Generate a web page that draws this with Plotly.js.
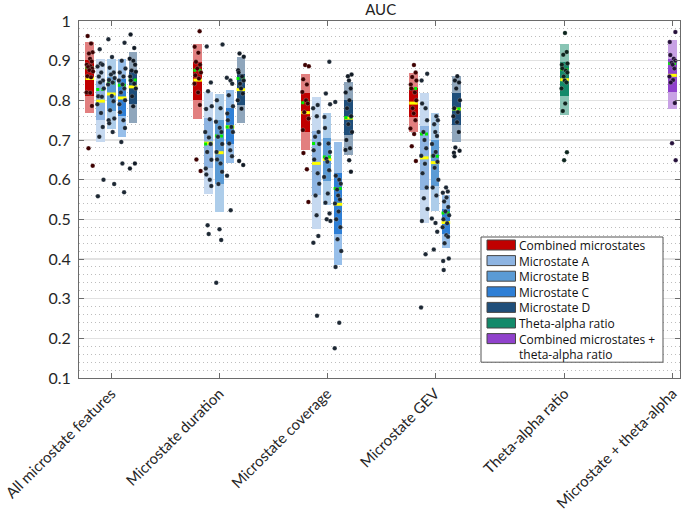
<!DOCTYPE html>
<html><head><meta charset="utf-8">
<script src="https://cdn.plot.ly/plotly-3.0.1.min.js"></script>
<style>html,body{margin:0;padding:0;background:#fff}#chart{width:685px;height:518px}</style>
</head><body><div id="chart"></div>
<script>
// Categories (x tick labels) and their axis positions
const groups = ['All microstate features','Microstate duration','Microstate coverage','Microstate GEV','Theta-alpha ratio','Microstate + theta-alpha'];
const groupPos = [1, 2, 3, 4, 5.2, 6.2];
const seriesNames = ['Combined microstates','Microstate A','Microstate B','Microstate C','Microstate D','Theta-alpha ratio','Combined microstates +<br>theta-alpha ratio'];

// Box statistics per group: [sdLow, ciLow, mean, median, ciHigh, sdHigh]
const statsCombined = [[0.767,0.811,0.855,0.882,0.901,0.946],[0.754,0.802,0.851,0.876,0.897,0.943],[0.674,0.72,0.769,0.794,0.818,0.866],[0.72,0.757,0.793,0.83,0.83,0.869]];
const statsA = [[0.694,0.75,0.798,0.827,0.85,0.903],[0.563,0.63,0.692,0.69,0.755,0.821],[0.475,0.561,0.641,0.691,0.723,0.809],[0.491,0.575,0.655,0.715,0.735,0.819]];
const statsB = [[0.727,0.773,0.816,0.844,0.86,0.904],[0.519,0.59,0.668,0.71,0.75,0.815],[0.536,0.596,0.651,0.657,0.706,0.767],[0.521,0.585,0.643,0.659,0.70,0.767]];
const statsC = [[0.708,0.76,0.806,0.838,0.853,0.905],[0.641,0.69,0.733,0.733,0.78,0.827],[0.385,0.464,0.538,0.578,0.616,0.695],[0.429,0.462,0.492,0.516,0.525,0.561]];
const statsD = [[0.743,0.79,0.834,0.851,0.877,0.923],[0.744,0.787,0.827,0.855,0.866,0.909],[0.663,0.712,0.755,0.757,0.80,0.847],[0.694,0.738,0.778,0.778,0.818,0.862]];
const statsTheta = [[0.764,0.81,0.852,0.878,0.897,0.941]];
const statsBoth = [[0.777,0.82,0.863,0.893,0.905,0.951]];

// Individual AUC values per group
const ptsCombined = [
 [0.962,0.943,0.921,0.918,0.905,0.898,0.89,0.886,0.884,0.88,0.876,0.873,0.861,0.858,0.82,0.819,0.786,0.679,0.635],
 [0.974,0.935,0.92,0.897,0.89,0.88,0.87,0.863,0.855,0.842,0.82,0.788,0.651,0.622],
 [0.889,0.886,0.853,0.84,0.821,0.80,0.792,0.77,0.754,0.725,0.667,0.626,0.544],
 [0.889,0.87,0.859,0.85,0.84,0.83,0.82,0.80,0.78,0.767,0.75,0.729,0.715,0.684,0.647]];
const ptsA = [
 [0.929,0.893,0.89,0.885,0.87,0.86,0.85,0.845,0.83,0.81,0.809,0.79,0.768,0.733,0.708,0.60,0.558],
 [0.936,0.845,0.823,0.785,0.778,0.752,0.72,0.706,0.69,0.67,0.65,0.628,0.613,0.60,0.584,0.485,0.463],
 [0.788,0.78,0.76,0.72,0.708,0.69,0.674,0.651,0.616,0.59,0.56,0.51,0.458,0.441,0.257],
 [0.867,0.85,0.792,0.78,0.75,0.72,0.70,0.679,0.66,0.64,0.616,0.58,0.553,0.526,0.496,0.412,0.278]];
const ptsB = [
 [0.954,0.909,0.882,0.87,0.865,0.856,0.851,0.845,0.84,0.811,0.798,0.775,0.754,0.75,0.742,0.72,0.589],
 [0.941,0.80,0.78,0.746,0.731,0.72,0.708,0.69,0.67,0.651,0.641,0.62,0.589,0.475,0.448,0.34],
 [0.897,0.817,0.79,0.758,0.73,0.691,0.67,0.653,0.645,0.624,0.607,0.565,0.542,0.515,0.50,0.496],
 [0.76,0.75,0.74,0.72,0.71,0.69,0.67,0.66,0.645,0.63,0.60,0.58,0.56,0.502,0.491,0.469,0.424]];
const ptsC = [
 [0.945,0.9,0.88,0.87,0.86,0.85,0.84,0.83,0.82,0.80,0.79,0.77,0.75,0.73,0.695,0.641,0.568],
 [0.857,0.85,0.842,0.813,0.785,0.767,0.75,0.733,0.72,0.691,0.674,0.659,0.61,0.523],
 [0.796,0.61,0.60,0.59,0.575,0.56,0.55,0.54,0.52,0.50,0.48,0.45,0.42,0.38,0.239,0.175],
 [0.58,0.57,0.567,0.555,0.545,0.531,0.52,0.51,0.50,0.49,0.48,0.46,0.456,0.44,0.401,0.395,0.372]];
const ptsD = [
 [0.966,0.932,0.905,0.90,0.89,0.875,0.872,0.86,0.85,0.842,0.83,0.81,0.785,0.641,0.628],
 [0.918,0.91,0.876,0.87,0.86,0.85,0.842,0.83,0.817,0.80,0.779,0.647,0.637],
 [0.865,0.861,0.85,0.83,0.82,0.80,0.78,0.76,0.74,0.72,0.70,0.679,0.675,0.649,0.62],
 [0.861,0.85,0.845,0.83,0.80,0.78,0.77,0.76,0.745,0.72,0.681,0.673,0.668,0.659]];
const ptsTheta = [[0.97,0.922,0.915,0.893,0.89,0.88,0.875,0.87,0.86,0.85,0.845,0.83,0.792,0.773,0.669,0.649]];
const ptsBoth = [[0.972,0.947,0.914,0.905,0.9,0.895,0.89,0.88,0.86,0.851,0.845,0.793,0.692,0.649]];

// Styles
const jitter = [-0.02,0.012,0.026,-0.008,0.002,0.018,-0.028,0.006,-0.016,0.022,-0.004,0.03,-0.022,0.012,-0.03,0.004,0.02,-0.012,0.027,-0.025];
const series = [
 {stats:statsCombined, pts:ptsCombined, g:[0,1,2,3], off:-0.2, inner:'#c00000', outer:'#e27f7f', dot:'#3d0000'},
 {stats:statsA, pts:ptsA, g:[0,1,2,3], off:-0.1, inner:'#8db4e2', outer:'#c6d9f0', dot:'#1c2733'},
 {stats:statsB, pts:ptsB, g:[0,1,2,3], off:0, inner:'#5b9bd5', outer:'#adcdea', dot:'#1c2733'},
 {stats:statsC, pts:ptsC, g:[0,1,2,3], off:0.1, inner:'#2e7fd6', outer:'#97bfea', dot:'#1c2733'},
 {stats:statsD, pts:ptsD, g:[0,1,2,3], off:0.2, inner:'#1f4e7a', outer:'#8fa6bc', dot:'#111a24'},
 {stats:statsTheta, pts:ptsTheta, g:[4], off:0, inner:'#128a6a', outer:'#88c4b4', dot:'#0c241d'},
 {stats:statsBoth, pts:ptsBoth, g:[5], off:0, inner:'#9042cc', outer:'#c8a1e5', dot:'#25103a'}
];
const W = 0.08;
const traces = [];
series.forEach((s, si) => {
  const xs = s.g.map(g => groupPos[g] + s.off);
  traces.push({type:'bar', x:xs, base:s.stats.map(r=>r[0]), y:s.stats.map(r=>r[5]-r[0]), width:W,
    marker:{color:s.outer, line:{width:0}}, showlegend:false, hoverinfo:'skip'});
  traces.push({type:'bar', x:xs, base:s.stats.map(r=>r[1]), y:s.stats.map(r=>r[4]-r[1]), width:W, name:seriesNames[si].replace('<br>',' '),
    marker:{color:s.inner, line:{width:0}}, showlegend:false, hoverinfo:'skip'});
});
series.forEach((s, si) => {
  const xs = s.g.map(g => groupPos[g] + s.off);
  const mx=[], my=[], dx=[], dy=[];
  xs.forEach((x,i) => {
    mx.push(x-W/2, x+W/2, null); my.push(s.stats[i][2], s.stats[i][2], null);
    dx.push(x-W/2, x+W/2, null); dy.push(s.stats[i][3], s.stats[i][3], null);
  });
  traces.push({type:'scatter', mode:'lines', x:mx, y:my, line:{color:'#ffff00', width:3}, showlegend:false, hoverinfo:'skip'});
  traces.push({type:'scatter', mode:'lines', x:dx, y:dy, line:{color:'#00ee00', width:3, dash:'3px,2px'}, showlegend:false, hoverinfo:'skip'});
});
series.forEach((s, si) => {
  const px=[], py=[];
  s.g.forEach((g,i) => {
    s.pts[i].forEach((v,k) => { px.push(groupPos[g] + s.off + jitter[(k + si*3 + i*5) % jitter.length]); py.push(v); });
  });
  traces.push({type:'scatter', mode:'markers', x:px, y:py, marker:{size:4.5, color:s.dot, line:{width:0.5, color:'rgba(255,255,255,0.4)'}}, showlegend:false, hoverinfo:'y'});
});

// Legend box drawn in paper coordinates (pixel layout of the reference)
const PL=79, PR=680, PT=21, PB=378;
const fx = p => (p-PL)/(PR-PL), fy = p => 1-(p-PT)/(PB-PT);
const LFS = 12, LH = LFS*1.3, ROW0 = 245;
const shapes = [{type:'rect', xref:'paper', yref:'paper', x0:fx(481), x1:fx(663), y0:fy(ROW0+7*LH+8), y1:fy(237), fillcolor:'#fff', line:{color:'#555', width:1}, layer:'above'}];
series.forEach((s, si) => {
  const cy = ROW0 + LH*si;
  shapes.push({type:'rect', xref:'paper', yref:'paper', x0:fx(487), x1:fx(515.5), y0:fy(cy+5), y1:fy(cy-5), fillcolor:s.inner, line:{color:'#474747', width:1}, layer:'above'});
});
const annotations = [{xref:'paper', yref:'paper', x:fx(518), y:fy(ROW0 + 3.5*LH), text:seriesNames.join('<br>'), showarrow:false,
  xanchor:'left', yanchor:'middle', align:'left', borderpad:0, font:{family:'"Open Sans", sans-serif', size:LFS, color:'#111'}}];

const layout = {
  width:685, height:518, margin:{l:PL, r:685-PR, t:PT, b:518-PB},
  paper_bgcolor:'#fff', plot_bgcolor:'#fff',
  font:{family:'Lato, "Open Sans", sans-serif', color:'#262626'},
  title:{text:'AUC', x:0.502, xref:'paper', xanchor:'center', y:0.981, yref:'container', yanchor:'middle', font:{size:15, color:'#222'}},
  barmode:'overlay', bargap:0, showlegend:false,
  xaxis:{range:[0.7,6.27], tickvals:groupPos, ticktext:groups, tickangle:-45, ticks:'inside', ticklen:5, tickcolor:'#6b6b6b',
    showline:true, linecolor:'#6b6b6b', linewidth:1, mirror:'ticks', showgrid:false, zeroline:false, tickfont:{size:15, color:'#262626'}},
  yaxis:{range:[0.1,1], tick0:0.1, dtick:0.1, ticks:'inside', ticklen:5, tickcolor:'#6b6b6b', showline:true, linecolor:'#6b6b6b', linewidth:1, mirror:'ticks',
    showgrid:true, gridcolor:'#e2e2e2', gridwidth:1.5, zeroline:false, tickfont:{size:16, color:'#262626'}, ticklabelstandoff:4,
    minor:{dtick:0.02, showgrid:true, gridcolor:'#bdbdbd', griddash:'1px,3px', gridwidth:1, ticks:''}},
  shapes:shapes, annotations:annotations
};
Plotly.newPlot('chart', traces, layout, {staticPlot:true});
</script></body></html>
